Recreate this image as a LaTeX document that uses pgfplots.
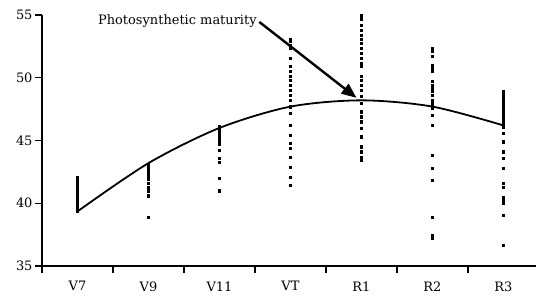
\documentclass[border=0pt]{standalone}
\usepackage{pgfplots}
\pgfplotsset{compat=1.18}
\usepackage{fontspec}
\setmainfont{DejaVu Serif}
\usetikzlibrary{arrows.meta}
\begin{document}
\begin{tikzpicture}
\begin{axis}[
  scale only axis,
  width=494bp, height=251bp,
  xmin=-0.5, xmax=6.458,
  ymin=35, ymax=55,
  axis x line=bottom, axis y line=left,
  axis line style={line width=1.3bp, -},
  xtick={-0.5,0.5,1.5,2.5,3.5,4.5,5.5},
  xticklabels={},
  extra x ticks={0,1,2,3,4,5,6},
  extra x tick labels={V7,V9,V11,VT,R1,R2,R3},
  extra x tick style={major tick length=0pt, tick label style={yshift=-12bp}},
  ytick={35,40,45,50,55},
  tick style={line width=1.3bp, black},
  major tick length=7bp,
  tick align=outside,
  tick label style={font=\fontsize{13}{15}\selectfont},
  yticklabel style={xshift=1bp},
  /pgf/number format/assume math mode=true,
  clip=false,
]
\addplot[only marks, mark=square*, mark size=1.1bp, black] coordinates {
(0,42.1)(0,41.9)(0,41.7)(0,41.5)(0,41.3)(0,41.1)(0,40.9)(0,40.7)(0,40.5)(0,40.3)(0,40.1)(0,39.9)(0,39.7)(0,39.5)(0,39.35)
(1,43.1)(1,42.9)(1,42.7)(1,42.5)(1,42.3)(1,42.1)(1,41.9)(1,41.6)(1,41.3)(1,41.0)(1,40.6)(1,38.9)
(2,46.1)(2,45.9)(2,45.7)(2,45.5)(2,45.3)(2,45.1)(2,44.9)(2,44.7)(2,44.2)(2,43.6)(2,43.3)(2,42.0)(2,41.0)
(3,53.1)(3,52.9)(3,52.6)(3,52.35)(3,51.55)(3,50.9)(3,50.5)(3,50.1)(3,49.8)(3,49.4)(3,49.0)(3,48.6)(3,48.2)(3,47.7)(3,47.2)(3,46.2)(3,45.4)(3,44.8)(3,44.4)(3,43.7)(3,42.9)(3,42.1)(3,41.45)
(4,55.0)(4,54.7)(4,54.2)(4,53.8)(4,53.4)(4,53.1)(4,52.75)(4,52.35)(4,51.95)(4,51.55)(4,51.15)(4,50.9)(4,50.1)(4,49.8)(4,49.4)(4,49.0)(4,48.5)(4,48.0)(4,47.3)(4,46.9)(4,46.5)(4,46.0)(4,45.3)(4,44.5)(4,44.1)(4,43.7)(4,43.45)
(5,52.35)(5,52.1)(5,51.7)(5,51.0)(5,50.75)(5,50.5)(5,49.7)(5,49.4)(5,49.15)(5,48.9)(5,48.6)(5,48.2)(5,47.95)(5,47.8)(5,47.55)(5,47.0)(5,46.2)(5,43.85)(5,42.8)(5,41.85)(5,38.9)(5,37.45)(5,37.2)
(6,48.9)(6,48.7)(6,48.5)(6,48.3)(6,48.1)(6,47.9)(6,47.7)(6,47.5)(6,47.3)(6,47.1)(6,46.9)(6,46.7)(6,46.5)(6,46.3)(6,46.1)(6,45.6)(6,44.9)(6,44.1)(6,43.6)(6,42.8)(6,41.6)(6,41.3)(6,40.5)(6,40.25)(6,40.0)(6,39.05)(6,36.65)
};
\addplot[black, line width=1.8bp, smooth, tension=0.5, mark=none] coordinates {
(0,39.35)(1,43.2)(2,46.0)(3,47.7)(4,48.2)(5,47.7)(6,46.2)
};
\draw[black, line width=2.4bp, -{Triangle[length=15bp,width=12bp]}] (axis cs:2.56,54.45) -- (axis cs:3.93,48.4);
\node[anchor=east, font=\fontsize{13}{15}\selectfont, inner sep=1bp] at (axis cs:2.54,54.5) {Photosynthetic maturity};
\coordinate (bl) at (rel axis cs:0,0);
\coordinate (tr) at (rel axis cs:1,1);
\end{axis}
\pgfresetboundingbox
\path ([shift={(-42bp,-31bp)}]bl) rectangle ([shift={(0bp,15bp)}]tr);
\end{tikzpicture}
\end{document}
